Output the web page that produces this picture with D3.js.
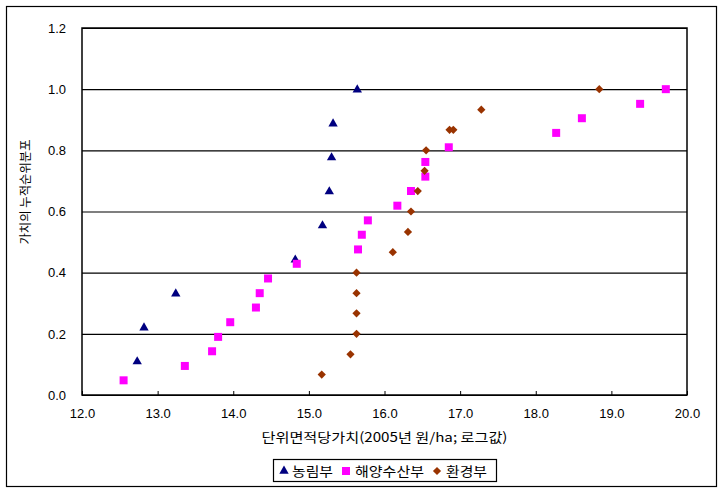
<!DOCTYPE html>
<html>
<head>
<meta charset="utf-8">
<script src="https://cdn.jsdelivr.net/npm/d3@7"></script>
<style>
  html, body { margin: 0; padding: 0; background: #fff; }
  svg { display: block; }
</style>
</head>
<body>
<svg id="chart" width="727" height="496"></svg>
<script>
// ---- Data ----
const seriesNames = ["농림부", "해양수산부", "환경부"];

const agriX = [12.73, 12.82, 13.24, 14.82, 15.18, 15.27, 15.30, 15.32, 15.64];
const agriY = [0.111, 0.222, 0.333, 0.444, 0.556, 0.667, 0.778, 0.889, 1.000];

const seaX = [12.55, 13.36, 13.72, 13.80, 13.96, 14.30, 14.35, 14.46, 14.84, 15.65, 15.70,
              15.78, 16.17, 16.35, 16.54, 16.54, 16.85, 18.27, 18.61, 19.38, 19.72];
const seaY = [0.048, 0.095, 0.143, 0.190, 0.238, 0.286, 0.333, 0.381, 0.429, 0.476, 0.524,
              0.571, 0.619, 0.667, 0.714, 0.762, 0.810, 0.857, 0.905, 0.952, 1.000];

const envX = [15.17, 15.55, 15.63, 15.63, 15.63, 15.63, 16.11, 16.31, 16.35, 16.44, 16.53,
              16.55, 16.86, 16.91, 17.28, 18.84];
const envY = [0.067, 0.133, 0.200, 0.267, 0.333, 0.400, 0.467, 0.533, 0.600, 0.667, 0.733,
              0.800, 0.867, 0.867, 0.933, 1.000];

const xTicks = [12, 13, 14, 15, 16, 17, 18, 19, 20];
const yTicks = [0, 0.2, 0.4, 0.6, 0.8, 1.0, 1.2];

const xTitle = "단위면적당가치(2005년 원/ha; 로그값)";
const yTitle = "가치의 누적순위분포";

// ---- Layout ----
const svg = d3.select("#chart");
const plot = { left: 82, right: 687, top: 28, bottom: 395 };
const numFont = "'Liberation Sans', Arial, sans-serif";
const krFont = "'Noto Sans CJK KR', 'Noto Sans', sans-serif";

const x = d3.scaleLinear().domain([12, 20]).range([plot.left, plot.right]);
const y = d3.scaleLinear().domain([0, 1.2]).range([plot.bottom, plot.top]);

// outer chart border
svg.append("rect")
  .attr("x", 6.5).attr("y", 6.5)
  .attr("width", 710).attr("height", 480)
  .attr("fill", "#fff").attr("stroke", "#000").attr("stroke-width", 1.2);

// Y axis with gridlines
const yAxis = svg.append("g")
  .attr("transform", `translate(${plot.left},0)`)
  .call(d3.axisLeft(y).tickValues(yTicks).tickFormat(d3.format(".1f"))
        .tickSize(-(plot.right - plot.left)).tickPadding(16));
yAxis.select(".domain").remove();
yAxis.selectAll(".tick line").attr("stroke", "#000").attr("stroke-width", 1.2);
yAxis.selectAll("text").attr("font-family", numFont).attr("font-size", 13).attr("fill", "#000");

// X axis with inner ticks
const xAxis = svg.append("g")
  .attr("transform", `translate(0,${plot.bottom})`)
  .call(d3.axisBottom(x).tickValues(xTicks).tickFormat(d3.format(".1f"))
        .tickSize(-4).tickPadding(14));
xAxis.select(".domain").remove();
xAxis.selectAll(".tick line").attr("stroke", "#000");
xAxis.selectAll("text").attr("font-family", numFont).attr("font-size", 13).attr("fill", "#000");

// plot border
svg.append("rect")
  .attr("x", plot.left).attr("y", plot.top)
  .attr("width", plot.right - plot.left).attr("height", plot.bottom - plot.top)
  .attr("fill", "none").attr("stroke", "#000").attr("stroke-width", 1.5);

// ---- Markers ----
const triPath = d3.symbol().type(d3.symbolTriangle).size(38)();
const sqPath = d3.symbol().type(d3.symbolSquare).size(64)();
const diaPath = d3.symbol().type(d3.symbolSquare).size(34)();

const series = [
  { xs: agriX, ys: agriY, path: triPath, color: "#000080", rot: 0, dy: 0.6 },
  { xs: seaX, ys: seaY, path: sqPath, color: "#FF00FF", rot: 0, dy: 0 },
  { xs: envX, ys: envY, path: diaPath, color: "#993300", rot: 45, dy: 0 }
];

series.forEach(s => {
  svg.append("g").selectAll("path")
    .data(s.xs.map((v, i) => [v, s.ys[i]]))
    .join("path")
    .attr("d", s.path)
    .attr("transform", d => `translate(${x(d[0])},${y(d[1]) + s.dy}) rotate(${s.rot})`)
    .attr("fill", s.color);
});

// ---- Axis titles ----
svg.append("text")
  .attr("x", (plot.left + plot.right) / 2).attr("y", 442)
  .attr("text-anchor", "middle")
  .attr("font-family", krFont).attr("font-size", 13)
  .attr("textLength", 246).attr("lengthAdjust", "spacingAndGlyphs")
  .text(xTitle);

svg.append("text")
  .attr("transform", "translate(30,192) rotate(-90)")
  .attr("text-anchor", "middle")
  .attr("font-family", krFont).attr("font-size", 12)
  .attr("textLength", 105).attr("lengthAdjust", "spacingAndGlyphs")
  .text(yTitle);

// ---- Legend ----
const lg = svg.append("g");
lg.append("rect")
  .attr("x", 273.5).attr("y", 459.5).attr("width", 223).attr("height", 22)
  .attr("fill", "#fff").attr("stroke", "#000").attr("stroke-width", 1.2);

const legendItems = [
  { name: seriesNames[0], mx: 284, tx: 292, tw: 41, path: triPath, color: "#000080", rot: 0 },
  { name: seriesNames[1], mx: 346, tx: 355, tw: 69, path: sqPath, color: "#FF00FF", rot: 0 },
  { name: seriesNames[2], mx: 437, tx: 446, tw: 41, path: diaPath, color: "#993300", rot: 45 }
];
legendItems.forEach(it => {
  lg.append("path").attr("d", it.path)
    .attr("transform", `translate(${it.mx},471) rotate(${it.rot})`)
    .attr("fill", it.color);
  lg.append("text")
    .attr("x", it.tx).attr("y", 476)
    .attr("font-family", krFont).attr("font-size", 13)
    .attr("textLength", it.tw).attr("lengthAdjust", "spacingAndGlyphs")
    .text(it.name);
});
</script>
</body>
</html>
